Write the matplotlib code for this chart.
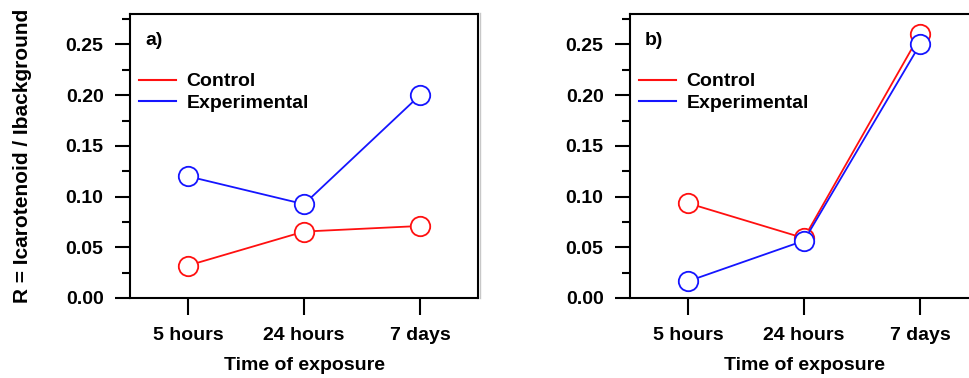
import numpy as np
import matplotlib
matplotlib.use('Agg')
import matplotlib.pyplot as plt
from matplotlib.lines import Line2D

plt.rcParams['font.family'] = ['Liberation Sans', 'DejaVu Sans']
plt.rcParams['font.weight'] = 'bold'

times = ['5 hours', '24 hours', '7 days']
# panel a
control_a = [0.032, 0.0655, 0.071]
exper_a = [0.120, 0.0925, 0.200]
# panel b
control_b = [0.0935, 0.059, 0.260]
exper_b = [0.0165, 0.0565, 0.250]

panels = [('a)', control_a, exper_a), ('b)', control_b, exper_b)]

RED = '#ff1010'
BLUE = '#1515ff'

W, H = 969, 378
fig = plt.figure(figsize=(W / 100, H / 100), dpi=100)

lefts = [130, 630]
fs = 14

for (tag, ctrl, expr), left in zip(panels, lefts):
    ax = fig.add_axes([left / W, (H - 298) / H, 348 / W, 284 / H])
    x = np.arange(len(times))
    ax.plot(x, ctrl, color=RED, lw=1.3, marker='o', ms=14, mfc='white',
            mec=RED, mew=1.3, clip_on=False, label='Control')
    ax.plot(x, expr, color=BLUE, lw=1.3, marker='o', ms=14, mfc='white',
            mec=BLUE, mew=1.3, clip_on=False, label='Experimental')
    ax.set_xlim(-0.5, 2.5)
    ax.set_ylim(0, 0.28)
    ax.set_xticks(x)
    ax.set_xticklabels(times)
    ax.set_yticks([0, 0.05, 0.10, 0.15, 0.20, 0.25])
    ax.set_yticklabels(['0.00', '0.05', '0.10', '0.15', '0.20', '0.25'])
    ax.set_yticks(np.arange(0.025, 0.28, 0.05), minor=True)
    for s in ax.spines.values():
        s.set_linewidth(1.5)
    ax.tick_params(axis='y', which='major', direction='out', length=11, width=1.5,
                   pad=8, labelsize=fs)
    ax.tick_params(axis='y', which='minor', direction='out', length=6, width=1.5)
    ax.tick_params(axis='x', direction='out', length=12, width=1.5, pad=9, labelsize=fs)
    ax.set_xlabel('Time of exposure', fontsize=fs, fontweight='bold', labelpad=9)
    ax.text(0.043, 0.908, tag, transform=ax.transAxes, fontsize=fs,
            fontweight='bold', va='center', ha='left')
    ax.legend(loc='upper left', bbox_to_anchor=(0.026, 0.793), frameon=False,
              fontsize=fs, handlelength=1.9, handletextpad=0.55, borderpad=0,
              labelspacing=0.2, borderaxespad=0,
              handles=[Line2D([], [], color=RED, lw=1.5),
                       Line2D([], [], color=BLUE, lw=1.5)],
              labels=['Control', 'Experimental'])
    if left == 130:
        ax.set_ylabel('R = Icarotenoid / Ibackground', fontsize=15,
                      fontweight='bold', labelpad=24)

# faint separator between panels
fig.add_artist(Line2D([480 / W, 480 / W], [(H - 298) / H, (H - 13) / H],
                      color='#c8c8c8', lw=1))

fig.savefig('out.png', dpi=100)
